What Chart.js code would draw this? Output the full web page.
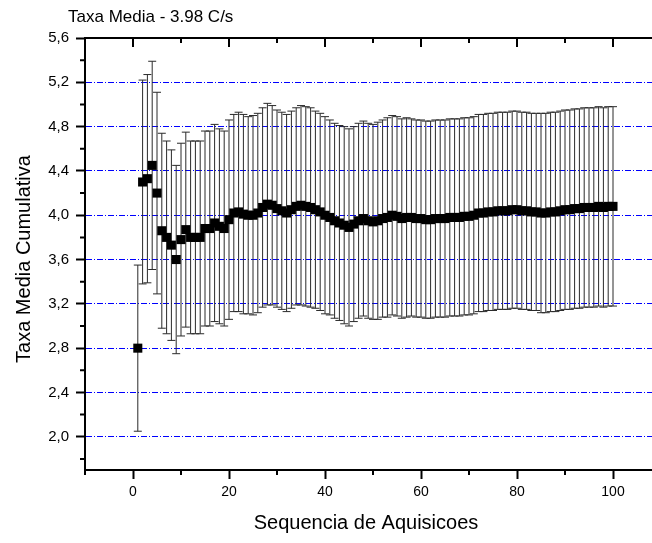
<!DOCTYPE html>
<html>
<head>
<meta charset="utf-8">
<script src="https://cdn.jsdelivr.net/npm/chart.js@4.4.1/dist/chart.umd.min.js"></script>
<style>
	html, body { margin: 0; padding: 0; background: #fff; overflow: hidden; }
	#wrap { width: 652px; height: 543px; overflow: hidden; }
	canvas { display: block; }
</style>
</head>
<body>
<div id="wrap"><canvas id="rateChart" width="670" height="543"></canvas></div>
<script>
const chartTitle = "Taxa Media - 3.98 C/s"
const xTitle = "Sequencia de Aquisicoes"
const yTitle = "Taxa Media Cumulativa"

const sequence = [
	1, 2, 3, 4, 5, 6, 7, 8, 9, 10,
	11, 12, 13, 14, 15, 16, 17, 18, 19, 20,
	21, 22, 23, 24, 25, 26, 27, 28, 29, 30,
	31, 32, 33, 34, 35, 36, 37, 38, 39, 40,
	41, 42, 43, 44, 45, 46, 47, 48, 49, 50,
	51, 52, 53, 54, 55, 56, 57, 58, 59, 60,
	61, 62, 63, 64, 65, 66, 67, 68, 69, 70,
	71, 72, 73, 74, 75, 76, 77, 78, 79, 80,
	81, 82, 83, 84, 85, 86, 87, 88, 89, 90,
	91, 92, 93, 94, 95, 96, 97, 98, 99, 100,
]

const meanRate = [
	2.80, 4.30, 4.33, 4.45, 4.20, 3.86, 3.80, 3.73, 3.60, 3.78,
	3.87, 3.80, 3.80, 3.80, 3.88, 3.88, 3.93, 3.90, 3.88, 3.96,
	4.02, 4.03, 4.01, 4.00, 4.00, 4.02, 4.07, 4.10, 4.09, 4.06,
	4.04, 4.02, 4.05, 4.08, 4.09, 4.08, 4.07, 4.05, 4.03, 4.00,
	3.98, 3.95, 3.93, 3.91, 3.89, 3.92, 3.95, 3.97, 3.95, 3.94,
	3.95, 3.97, 3.98, 4.00, 3.99, 3.97, 3.98, 3.98, 3.97, 3.97,
	3.96, 3.96, 3.97, 3.97, 3.97, 3.98, 3.98, 3.98, 3.99, 3.99,
	4.00, 4.02, 4.02, 4.03, 4.03, 4.04, 4.04, 4.04, 4.05, 4.05,
	4.04, 4.04, 4.03, 4.03, 4.02, 4.02, 4.03, 4.03, 4.04, 4.05,
	4.05, 4.06, 4.06, 4.07, 4.07, 4.07, 4.08, 4.07, 4.08, 4.08,
]

const rateError = [
	0.75, 0.92, 0.94, 0.94, 0.91, 0.88, 0.87, 0.86, 0.85, 0.87,
	0.88, 0.87, 0.87, 0.87, 0.88, 0.88, 0.89, 0.88, 0.88, 0.90,
	0.89, 0.90, 0.90, 0.89, 0.90, 0.90, 0.90, 0.91, 0.90, 0.89,
	0.89, 0.89, 0.89, 0.89, 0.90, 0.90, 0.90, 0.89, 0.89, 0.89,
	0.88, 0.88, 0.88, 0.89, 0.89, 0.88, 0.88, 0.88, 0.88, 0.88,
	0.89, 0.89, 0.90, 0.90, 0.90, 0.90, 0.90, 0.89, 0.89, 0.89,
	0.89, 0.89, 0.89, 0.89, 0.89, 0.89, 0.89, 0.89, 0.89, 0.89,
	0.89, 0.89, 0.89, 0.89, 0.89, 0.89, 0.89, 0.89, 0.89, 0.89,
	0.89, 0.89, 0.89, 0.89, 0.90, 0.90, 0.90, 0.90, 0.90, 0.90,
	0.90, 0.90, 0.90, 0.90, 0.90, 0.90, 0.90, 0.90, 0.90, 0.90,
]

const xMajorTicks = [0, 20, 40, 60, 80, 100]
const xMinorTicks = [-10, 10, 30, 50, 70, 90, 110]
const yMajorTicks = [2.0, 2.4, 2.8, 3.2, 3.6, 4.0, 4.4, 4.8, 5.2, 5.6]
const yMinorTicks = [1.8, 2.2, 2.6, 3.0, 3.4, 3.8, 4.2, 4.6, 5.0, 5.4]

// error bars under the squares, frame, minor ticks and titles on top
const framePlugin = {
	id: "framePlugin",
	beforeDatasetsDraw(chart) {
		const ctx = chart.ctx
		const xs = chart.scales.x
		const ys = chart.scales.y
		ctx.save()
		ctx.strokeStyle = "#2a2a2a"
		ctx.lineWidth = 1
		for (let i = 0; i < sequence.length; i++) {
			const px = xs.getPixelForValue(sequence[i])
			const top = ys.getPixelForValue(meanRate[i] + rateError[i])
			const bot = ys.getPixelForValue(meanRate[i] - rateError[i])
			ctx.beginPath()
			ctx.moveTo(px, top)
			ctx.lineTo(px, bot)
			ctx.moveTo(px - 4, top)
			ctx.lineTo(px + 4, top)
			ctx.moveTo(px - 4, bot)
			ctx.lineTo(px + 4, bot)
			ctx.stroke()
		}
		ctx.restore()
	},
	afterDraw(chart) {
		const ctx = chart.ctx
		const area = chart.chartArea
		const xs = chart.scales.x
		const ys = chart.scales.y
		ctx.save()
		ctx.strokeStyle = "#000"
		ctx.lineWidth = 2
		ctx.beginPath()
		// top and right axis lines
		ctx.moveTo(area.left - 1, area.top)
		ctx.lineTo(area.right + 1, area.top)
		ctx.moveTo(area.right, area.top)
		ctx.lineTo(area.right, area.bottom)
		// top axis ticks point down into the plot
		xMajorTicks.forEach((v) => {
			const px = xs.getPixelForValue(v)
			ctx.moveTo(px, area.top)
			ctx.lineTo(px, area.top + 9)
		})
		xMinorTicks.forEach((v) => {
			const px = xs.getPixelForValue(v)
			ctx.moveTo(px, area.top)
			ctx.lineTo(px, area.top + 5)
			ctx.moveTo(px, area.bottom)
			ctx.lineTo(px, area.bottom + 5)
		})
		yMinorTicks.forEach((v) => {
			const py = ys.getPixelForValue(v)
			ctx.moveTo(area.left, py)
			ctx.lineTo(area.left - 5, py)
			ctx.moveTo(area.right, py)
			ctx.lineTo(area.right - 5, py)
		})
		yMajorTicks.forEach((v) => {
			const py = ys.getPixelForValue(v)
			ctx.moveTo(area.right, py)
			ctx.lineTo(area.right - 9, py)
		})
		ctx.stroke()

		ctx.fillStyle = "#000"
		ctx.textBaseline = "middle"
		ctx.font = "17px 'Liberation Sans', Arial, sans-serif"
		ctx.textAlign = "left"
		ctx.fillText(chartTitle, 68, 17)

		ctx.font = "20px 'Liberation Sans', Arial, sans-serif"
		ctx.textAlign = "center"
		ctx.fillText(xTitle, 366, 523)

		ctx.translate(24, 259)
		ctx.rotate(-Math.PI / 2)
		ctx.fillText(yTitle, 0, 0)
		ctx.restore()
	},
}

const ctx = document.getElementById("rateChart").getContext("2d")
new Chart(ctx, {
	type: "scatter",
	data: {
		datasets: [
			{
				label: "Taxa Media",
				data: sequence.map((s, i) => ({ x: s, y: meanRate[i] })),
				pointStyle: "rect",
				pointRadius: 6.4,
				pointBackgroundColor: "#000",
				pointBorderWidth: 0,
				showLine: false,
			},
		],
	},
	options: {
		responsive: false,
		animation: false,
		devicePixelRatio: 1,
		layout: { padding: { top: 38, right: 9, bottom: 0, left: 0 } },
		plugins: {
			legend: { display: false },
			tooltip: { enabled: false },
		},
		scales: {
			x: {
				type: "linear",
				position: "bottom",
				min: -10,
				max: 110,
				afterBuildTicks: (scale) => {
					scale.ticks = xMajorTicks.map((v) => ({ value: v }))
				},
				afterFit: (scale) => {
					scale.height = 73
				},
				ticks: {
					color: "#000",
					font: { family: "'Liberation Sans', Arial", size: 14 },
					padding: 5,
					maxRotation: 0,
				},
				grid: {
					drawOnChartArea: false,
					tickLength: 9,
					tickColor: "#000",
					tickWidth: 2,
				},
				border: { color: "#000", width: 2 },
			},
			y: {
				type: "linear",
				min: 1.7,
				max: 5.6,
				afterBuildTicks: (scale) => {
					scale.ticks = yMajorTicks.map((v) => ({ value: v }))
				},
				afterFit: (scale) => {
					scale.width = 85
				},
				ticks: {
					color: "#000",
					font: { family: "'Liberation Sans', Arial", size: 15 },
					padding: 7,
					callback: (v) => Number(v).toFixed(1).replace(".", ","),
				},
				grid: {
					color: "#0000ff",
					lineWidth: 1,
					tickLength: 9,
					tickColor: "#000",
					tickWidth: 2,
					tickBorderDash: [],
				},
				border: { color: "#000", width: 2, dash: [6, 2, 1, 2] },
			},
		},
	},
	plugins: [framePlugin],
})
</script>
</body>
</html>
